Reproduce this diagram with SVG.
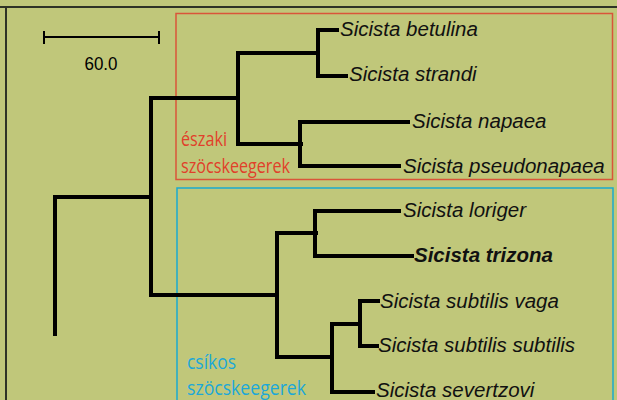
<svg xmlns="http://www.w3.org/2000/svg" width="617" height="400" viewBox="0 0 617 400">
<style>
.br{fill:none;stroke:#000;stroke-width:4;stroke-linecap:square}
.sp{font-family:"Liberation Sans",Arial,sans-serif;font-style:italic;font-size:20.5px;fill:#111}
.grp{font-family:"Open Sans","Noto Sans",sans-serif;font-size:20px}
</style>
<rect x="0" y="0" width="617" height="400" fill="#C0C77A"/>
<path d="M0 7H617M6 7V400" fill="none" stroke="#2f3326" stroke-width="2"/>
<g id="scale">
<path d="M44 37H159M44 31V44M159 31V44" fill="none" stroke="#000" stroke-width="2"/>
<text x="101" y="70" text-anchor="middle" font-family="Liberation Sans,Arial,sans-serif" font-size="19" textLength="33" lengthAdjust="spacingAndGlyphs">60.0</text>
</g>
<g id="group-north">
<rect x="176" y="13.5" width="436.5" height="166" fill="none" stroke="#D9553A" stroke-width="1.5"/>
<text class="grp" fill="#E0402A" x="181" y="146" textLength="46" lengthAdjust="spacingAndGlyphs">északi</text>
<text class="grp" fill="#E0402A" x="181" y="173" textLength="109" lengthAdjust="spacingAndGlyphs">szöcskeegerek</text>
</g>
<g id="group-striped">
<rect x="177" y="188" width="436" height="220" fill="none" stroke="#1AAAD0" stroke-width="1.5"/>
<text class="grp" fill="#1BA8D8" x="187" y="369" textLength="49" lengthAdjust="spacingAndGlyphs">csíkos</text>
<text class="grp" fill="#1BA8D8" x="187" y="395" textLength="119" lengthAdjust="spacingAndGlyphs">szöcskeegerek</text>
</g>
<g id="connectors">
<path class="br" d="M55 334V197H151"/>
<path class="br" d="M238 98H151V295H277"/>
<path class="br" d="M318 53H238V144H301"/>
<path class="br" d="M337 30H318V76H346"/>
<path class="br" d="M408 122H300V166H399"/>
<path class="br" d="M316 233H277V357H332"/>
<path class="br" d="M399 211H315V256H412"/>
<path class="br" d="M360 324H332V392H373"/>
<path class="br" d="M378 301H360V346H377"/>
</g>
<g id="leaf-betulina"><text class="sp" x="340" y="36">Sicista betulina</text></g>
<g id="leaf-strandi"><text class="sp" x="349" y="81">Sicista strandi</text></g>
<g id="leaf-napaea"><text class="sp" x="412" y="128">Sicista napaea</text></g>
<g id="leaf-pseudonapaea"><text class="sp" x="403" y="173">Sicista pseudonapaea</text></g>
<g id="leaf-loriger"><text class="sp" x="403" y="217">Sicista loriger</text></g>
<g id="leaf-trizona"><text class="sp" x="414" y="262" font-weight="bold">Sicista trizona</text></g>
<g id="leaf-vaga"><text class="sp" x="380" y="308">Sicista subtilis vaga</text></g>
<g id="leaf-subtilis"><text class="sp" x="378" y="352">Sicista subtilis subtilis</text></g>
<g id="leaf-severtzovi"><text class="sp" x="376" y="397">Sicista severtzovi</text></g>
</svg>
